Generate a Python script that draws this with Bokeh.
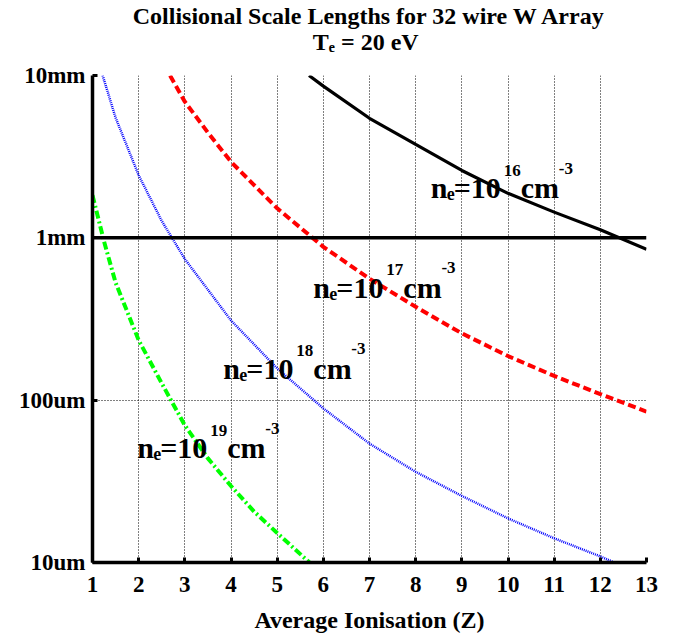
from bokeh.plotting import figure
from bokeh.models import Label, Span, FixedTicker, Range1d, Title
from bokeh.embed import file_html
from bokeh.resources import INLINE

# ---- data (scale length in mm vs average ionisation Z) ----
z_1e16 = [5.69, 6, 7, 8, 9, 10, 11, 12, 13]
l_1e16 = [10, 8.6, 5.45, 3.76, 2.6, 1.88, 1.44, 1.12, 0.85]
z_1e17 = [2.68, 3, 3.5, 4, 5, 6, 7, 8, 9, 10, 11, 12, 13]
l_1e17 = [10, 6.9, 4.45, 2.94, 1.52, 0.88, 0.56, 0.376, 0.258, 0.187, 0.141, 0.109, 0.085]
z_1e18 = [1.22, 1.5, 2, 2.5, 3, 4, 5, 6, 7, 8, 9, 10, 11, 12, 12.3]
l_1e18 = [10, 5.5, 2.43, 1.27, 0.74, 0.31, 0.157, 0.089, 0.054, 0.0362, 0.0257, 0.0187, 0.0141, 0.0109, 0.01]
z_1e19 = [1, 1.25, 1.5, 2, 2.5, 3, 3.5, 4, 4.5, 5, 5.7]
l_1e19 = [1.83, 0.95, 0.53, 0.234, 0.127, 0.07, 0.0438, 0.0296, 0.0206, 0.0152, 0.01]
ref_level = 1.0  # 1 mm reference line

x_ticks = list(range(1, 14))
y_ticks = [0.01, 0.1, 1, 10]
y_tick_labels = ["10um", "100um", "1mm", "10mm"]
title_line1 = "Collisional Scale Lengths for 32 wire W Array"
title_line2 = "T\u2091 = 20 eV"

FONT = "Liberation Serif"

# page geometry of the frame
FL, FR, FT, FB = 92.0, 645.7, 75.3, 561.7
SHIFT = 24          # canvas is pulled up by this many pixels (empty title padding)
W, H = 684, 635 + SHIFT

p = figure(width=W, height=H, x_range=Range1d(1, 13), y_range=Range1d(0.01, 10),
           y_axis_type="log", output_backend="svg", toolbar_location=None, title=None,
           min_border_left=int(FL), min_border_right=int(round(W - FR)),
           min_border_top=int(round(FT)) + SHIFT,
           min_border_bottom=int(round(H - FB - SHIFT)),
           styles={"margin-top": f"-{SHIFT}px"})
p.outline_line_color = None
p.background_fill_color = "white"
p.border_fill_color = "white"

# two-line title; the second line is padded with no-break spaces so it sits centred
title_text = title_line1 + "\n" + "\u00a0" * 30 + title_line2
p.add_layout(Title(text=title_text, align="center", text_font=FONT, text_font_style="bold",
                   text_font_size="24px", text_color="black", text_line_height=1.0,
                   standoff=42), "above")

for ax in (p.xaxis[0], p.yaxis[0]):
    ax.axis_line_width = 3.5
    ax.axis_line_color = "black"
    ax.major_tick_in = 5
    ax.major_tick_out = 0
    ax.major_tick_line_width = 3
    ax.minor_tick_line_color = None
    ax.major_label_text_font = FONT
    ax.major_label_text_font_style = "bold"
    ax.major_label_text_font_size = "23px"
    ax.major_label_text_color = "black"

p.xaxis.ticker = FixedTicker(ticks=x_ticks)
p.yaxis.ticker = FixedTicker(ticks=y_ticks)
p.yaxis.major_label_overrides = {t: s for t, s in zip(y_ticks, y_tick_labels)}
p.xaxis.major_label_standoff = 14
p.yaxis.major_label_standoff = 7
p.xaxis.axis_label = "Average Ionisation (Z)"
p.xaxis.axis_label_text_font = FONT
p.xaxis.axis_label_text_font_style = "bold"
p.xaxis.axis_label_text_font_size = "24px"
p.xaxis.axis_label_text_color = "black"
p.xaxis.axis_label_standoff = 12

for g in (p.xgrid[0], p.ygrid[0]):
    g.grid_line_color = "black"
    g.grid_line_dash = "1 2"
    g.grid_line_width = 1
    g.grid_line_alpha = 1.0
p.xgrid.ticker = FixedTicker(ticks=x_ticks)
p.ygrid.ticker = FixedTicker(ticks=y_ticks)

p.add_layout(Span(location=ref_level, dimension="width", line_color="black", line_width=3.5))

p.line(z_1e16, l_1e16, line_color="black", line_width=3.2)
p.line(z_1e17, l_1e17, line_color="#ff0000", line_width=4, line_dash="8 4")
p.line(z_1e18, l_1e18, line_color="#0000ff", line_width=2.5, line_dash="1 1")
p.line(z_1e19, l_1e19, line_color="#00ff00", line_width=4, line_dash="8 3 2 3")


def to_data(px, py):
    zx = 1 + (px - FL) * 12.0 / (FR - FL)
    yy = 10 ** (1 - 3.0 * (py - FT) / (FB - FT))
    return zx, yy


def txt(x, y, s, size, align="left"):
    dx, dy = to_data(x, y - 0.33 * size)
    p.add_layout(Label(x=dx, y=dy, text=s,
                       text_font=FONT, text_font_style="bold", text_font_size=f"{size}px",
                       text_align=align, text_baseline="alphabetic", text_color="black"))


def ne_label(x0, yb, exp):
    txt(x0, yb, "n", 30)
    txt(x0 + 16, yb + 2, "e", 18)
    txt(x0 + 23, yb, "=10", 30)
    txt(x0 + 73, yb - 22, exp, 17)
    txt(x0 + 90, yb, "cm", 30)
    txt(x0 + 128, yb - 24, "-3", 17)


ne_label(430, 197.3, "16")
ne_label(312.7, 296.7, "17")
ne_label(222.7, 377.7, "18")
ne_label(136.7, 457.0, "19")

open("out.html", "w").write(file_html(p, INLINE))
